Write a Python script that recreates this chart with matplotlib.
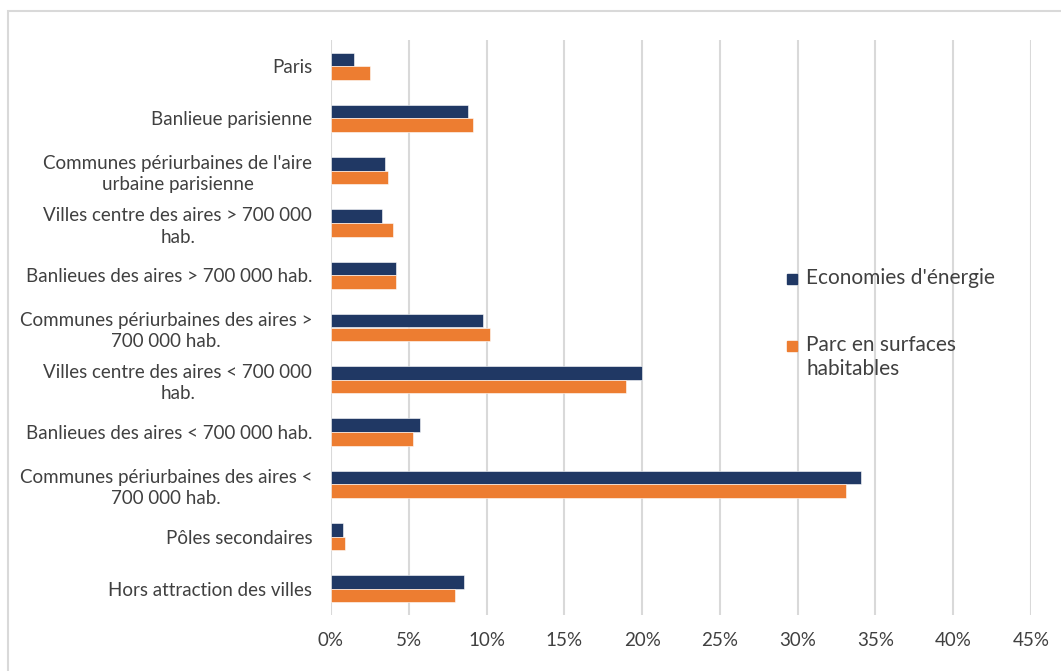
import matplotlib
matplotlib.use("Agg")
import matplotlib.pyplot as plt
from matplotlib.patches import Rectangle
import numpy as np

categories = [
    "Paris",
    "Banlieue parisienne",
    "Communes périurbaines de l'aire\nurbaine parisienne",
    "Villes centre des aires > 700 000\nhab.",
    "Banlieues des aires > 700 000 hab.",
    "Communes périurbaines des aires >\n700 000 hab.",
    "Villes centre des aires < 700 000\nhab.",
    "Banlieues des aires < 700 000 hab.",
    "Communes périurbaines des aires <\n700 000 hab.",
    "Pôles secondaires",
    "Hors attraction des villes",
]
economies = [1.5, 8.8, 3.45, 3.3, 4.15, 9.8, 20.0, 5.7, 34.1, 0.75, 8.55]
parc = [2.5, 9.15, 3.65, 4.0, 4.15, 10.25, 18.95, 5.3, 33.1, 0.9, 8.0]
series_names = ["Economies d'énergie", "Parc en surfaces\nhabitables"]
x_ticks = [0, 5, 10, 15, 20, 25, 30, 35, 40, 45]
x_ticklabels = [f"{t}%" for t in x_ticks]

dark = "#203864"
orange = "#ED7D31"
txt = "#404040"
grid = "#D9D9D9"

plt.rcParams['font.family'] = ['Lato', 'DejaVu Sans']

W, H = 1061, 671
fig = plt.figure(figsize=(W / 100, H / 100), dpi=100)
ax = fig.add_axes([331 / W, 1 - 615 / H, (1031 - 331) / W, (615 - 40) / H])

n = len(categories)
y = np.arange(n)
bh = 0.26
ax.barh(y - bh / 2, economies, height=bh, color=dark, edgecolor="white", linewidth=0.4, zorder=3)
ax.barh(y + bh / 2, parc, height=bh, color=orange, edgecolor="white", linewidth=0.4, zorder=3)

ax.set_ylim(n - 0.5, -0.5)
ax.set_xlim(0, 45)
ax.set_xticks(x_ticks)
ax.set_xticklabels(x_ticklabels, color=txt, fontsize=13.5)
ax.set_yticks(y)
ax.set_yticklabels(categories, color=txt, fontsize=13.5, multialignment="center", linespacing=1.3)
ax.tick_params(axis="both", length=0)
ax.tick_params(axis="x", pad=12)
ax.tick_params(axis="y", pad=13.5)
ax.xaxis.grid(True, color=grid, linewidth=1.5, zorder=0)
ax.set_axisbelow(True)
for s in ax.spines.values():
    s.set_visible(False)

# legend
legend_colors = [dark, orange]
legend_y = [279, 346]
for c, name, ly in zip(legend_colors, series_names, legend_y):
    fig.patches.append(Rectangle((787 / W, 1 - (ly + 5) / H), 10 / W, 10 / H,
                                 transform=fig.transFigure, color=c, zorder=5))
    fig.text(806 / W, 1 - (ly - 11) / H, name, color=txt, fontsize=15,
             va="top", ha="left", linespacing=1.25)

# outer frame
fig.patches.append(Rectangle((8 / W, -0.05), 1.1, 1 - 11 / H + 0.05, transform=fig.transFigure,
                             fill=False, edgecolor="#D9D9D9", linewidth=1.5, zorder=0))

fig.savefig("out.png", dpi=100)
